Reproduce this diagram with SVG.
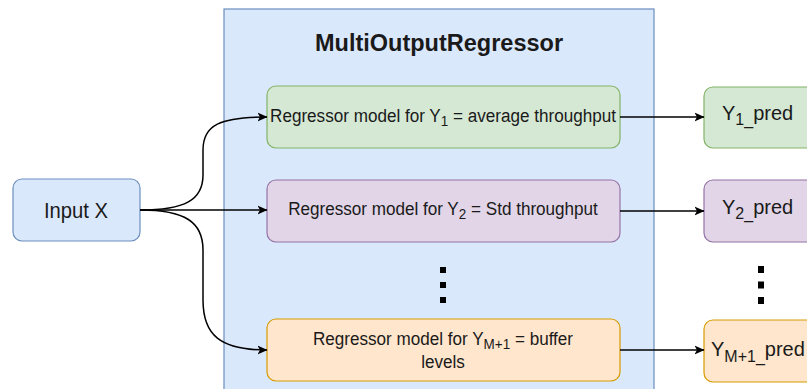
<svg xmlns="http://www.w3.org/2000/svg" width="807" height="389" viewBox="0 0 807 389">
<defs>
<style>
text{font-family:"Liberation Sans",Arial,sans-serif;fill:#1a1a1a}
.t{font-size:19px}
.o{font-size:20px}
.edge{fill:none;stroke:#000;stroke-width:1.5}
.dots{stroke:#000;stroke-width:6}
</style>
<marker id="arr" viewBox="0 0 10 10" refX="9.5" refY="5" markerWidth="10" markerHeight="10" markerUnits="userSpaceOnUse" orient="auto">
<path d="M0,0.5 L10,5 L0,9.5 L2.5,5 Z" fill="#000"/>
</marker>
</defs>
<g id="container">
<rect x="224" y="9" width="430" height="400" fill="#dae8fc" stroke="#6c8ebf" stroke-width="1.2"/>
<text x="439" y="51" text-anchor="middle" font-weight="bold" font-size="23.5">MultiOutputRegressor</text>
</g>
<g id="input">
<rect x="13" y="179" width="127" height="62" rx="9" fill="#dae8fc" stroke="#6c8ebf" stroke-width="1.2"/>
<text transform="translate(76,218) scale(0.92,1)" text-anchor="middle" font-size="22">Input X</text>
</g>
<g id="model1">
<rect x="267" y="86" width="353" height="62" rx="9" fill="#d5e8d4" stroke="#82b366" stroke-width="1.2"/>
<text class="t" transform="translate(443,122) scale(0.9,1)" text-anchor="middle">Regressor model for Y<tspan font-size="15" dy="4">1</tspan><tspan dy="-4"> = average throughput</tspan></text>
</g>
<g id="model2">
<rect x="267" y="180" width="353" height="62" rx="9" fill="#e1d5e7" stroke="#9673a6" stroke-width="1.2"/>
<text class="t" transform="translate(443,215) scale(0.9,1)" text-anchor="middle">Regressor model for Y<tspan font-size="15" dy="4">2</tspan><tspan dy="-4"> = Std throughput</tspan></text>
</g>
<g id="model3">
<rect x="267" y="319" width="353" height="62" rx="9" fill="#ffe6cc" stroke="#d79b00" stroke-width="1.2"/>
<text class="t" transform="translate(443,345) scale(0.9,1)" text-anchor="middle">Regressor model for Y<tspan font-size="15" dy="4">M+1</tspan><tspan dy="-4"> = buffer</tspan></text>
<text class="t" transform="translate(443,368) scale(0.9,1)" text-anchor="middle">levels</text>
</g>
<g id="dots-left"><line class="dots" x1="443" y1="267" x2="443" y2="303" stroke-dasharray="6 9"/></g>
<g id="out1">
<rect x="704" y="87" width="120" height="61" rx="9" fill="#d5e8d4" stroke="#82b366" stroke-width="1.2"/>
<text class="o" x="722" y="120">Y<tspan font-size="16" dy="5">1_</tspan><tspan dy="-5">pred</tspan></text>
</g>
<g id="out2">
<rect x="704" y="180" width="120" height="62" rx="9" fill="#e1d5e7" stroke="#9673a6" stroke-width="1.2"/>
<text class="o" x="722" y="214">Y<tspan font-size="16" dy="5">2_</tspan><tspan dy="-5">pred</tspan></text>
</g>
<g id="out3">
<rect x="704" y="320" width="120" height="62" rx="9" fill="#ffe6cc" stroke="#d79b00" stroke-width="1.2"/>
<text class="o" x="711" y="356">Y<tspan font-size="16" dy="6">M+1_</tspan><tspan dy="-6">pred</tspan></text>
</g>
<g id="dots-right"><line class="dots" x1="761" y1="266" x2="761" y2="304" stroke-dasharray="7 8.5"/></g>
<g id="connectors">
<path class="edge" marker-end="url(#arr)" d="M140,210 C185,210 203,200 203,175 L203,150 C203,125 220,117 267,117"/>
<path class="edge" marker-end="url(#arr)" d="M140,210 L267,210"/>
<path class="edge" marker-end="url(#arr)" d="M140,210 C185,210 203,222 203,250 L203,300 C203,335 220,350 267,350"/>
<path class="edge" marker-end="url(#arr)" d="M620,117 L704,117"/>
<path class="edge" marker-end="url(#arr)" d="M620,211 L704,211"/>
<path class="edge" marker-end="url(#arr)" d="M620,350 L704,350"/>
</g>
</svg>
